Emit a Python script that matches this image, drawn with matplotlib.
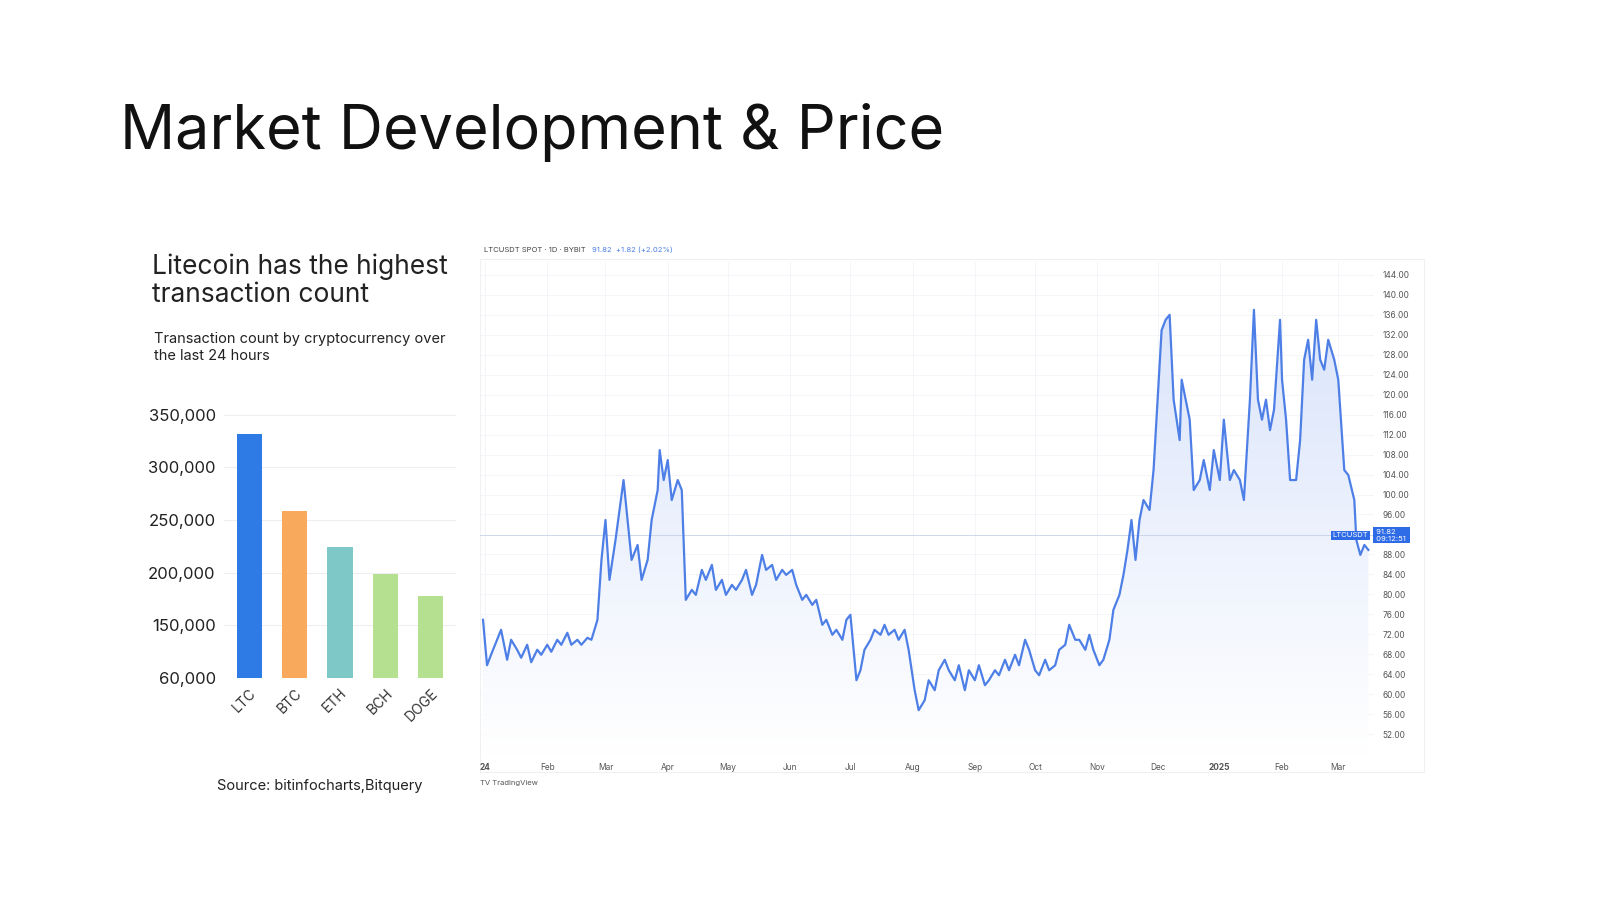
import matplotlib
matplotlib.use("Agg")
import matplotlib.pyplot as plt
import numpy as np
from matplotlib.patches import Polygon
from matplotlib.colors import LinearSegmentedColormap

plt.rcParams['font.family'] = ['Inter', 'DejaVu Sans']

# ---- bar data ----
coins = ["LTC", "BTC", "ETH", "BCH", "DOGE"]
tx_counts = [331700, 258700, 224000, 199000, 178000]
bar_colors = ["#2F7BE5", "#F9A95C", "#7FC8C8", "#B5E08F", "#B5E08F"]
bar_ticks = [100000, 150000, 200000, 250000, 300000, 350000]
bar_tick_labels = ["60,000", "150,000", "200,000", "250,000", "300,000", "350,000"]

# ---- price data (days since 2024-01-01, LTC/USDT) ----
price_days = [-1, 1, 3, 6, 8, 11, 13, 16, 18, 21, 23, 26, 28, 31, 33, 36, 38, 41, 43, 46, 48, 51, 53, 56,
              58, 60, 62, 65, 67, 69, 71, 73, 76, 78, 81, 83, 86, 87, 89, 91, 93, 96, 98, 100, 103, 105, 108,
              110, 113, 115, 118, 120, 123, 125, 128, 130, 133, 135, 138, 140, 143, 145, 148, 150, 153, 155,
              158, 160, 163, 165, 168, 170, 173, 175, 178, 180, 182, 185, 187, 189, 192, 194, 197, 199, 201,
              204, 206, 209, 211, 214, 216, 219, 221, 224, 226, 229, 231, 234, 236, 239, 241, 244, 246, 249,
              251, 254, 256, 259, 261, 264, 266, 269, 271, 274, 276, 279, 281, 284, 286, 289, 291, 294, 296,
              299, 301, 303, 306, 308, 311, 313, 316, 318, 320, 322, 324, 326, 328, 331, 333, 335, 337, 339,
              341, 343, 346, 347, 349, 351, 353, 356, 358, 361, 363, 366, 368, 371, 373, 376, 378, 381, 383,
              385, 387, 389, 391, 393, 396, 397, 399, 401, 404, 406, 408, 410, 412, 414, 416, 418, 420, 423,
              425, 428, 430, 433, 434, 436, 438, 440]
price_vals = [74.9, 65.8, 67.9, 70.9, 72.9, 66.9, 70.9, 68.9, 67.3, 69.9, 66.4, 68.9, 67.9, 69.9, 68.5, 70.9,
              69.9, 72.3, 69.9, 70.9, 69.9, 71.3, 70.9, 74.9, 86.9, 94.9, 82.9, 90.9, 96.9, 102.9, 94.9, 86.9,
              89.9, 82.9, 86.9, 94.9, 100.9, 108.9, 102.9, 106.9, 98.9, 102.9, 100.9, 78.9, 80.9, 79.9, 84.9,
              82.9, 85.9, 80.9, 82.9, 79.9, 81.9, 80.9, 82.9, 84.9, 79.9, 81.9, 87.9, 84.9, 85.9, 82.9, 84.9,
              83.9, 84.9, 81.9, 78.9, 79.9, 77.9, 78.9, 73.9, 74.9, 71.9, 72.9, 70.9, 74.9, 75.9, 62.8, 64.8,
              68.9, 70.9, 72.9, 71.9, 73.9, 71.9, 72.9, 70.9, 72.9, 68.9, 60.8, 56.8, 58.8, 62.8, 60.8, 64.8,
              66.9, 64.8, 62.8, 65.8, 60.8, 64.8, 62.8, 65.8, 61.8, 62.8, 64.8, 63.8, 66.9, 64.8, 67.9, 65.8,
              70.9, 68.9, 64.8, 63.8, 66.9, 64.8, 65.8, 68.9, 69.9, 73.9, 70.9, 70.9, 68.9, 71.9, 68.9, 65.8,
              66.9, 70.9, 76.9, 79.9, 83.9, 88.9, 94.9, 86.9, 94.9, 98.9, 96.9, 104.9, 118.9, 132.9, 135.0,
              136.0, 119.0, 110.9, 123.0, 119.0, 115.0, 100.9, 102.9, 106.9, 100.9, 108.9, 102.9, 115.0,
              102.9, 104.9, 102.9, 98.9, 119.0, 137.0, 119.0, 115.0, 119.0, 112.9, 117.0, 135.0, 123.0,
              115.0, 102.9, 102.9, 110.9, 127.0, 131.0, 123.0, 135.0, 127.0, 125.0, 131.0, 127.0, 123.0,
              104.9, 103.9, 98.9, 90.9, 87.9, 89.9, 88.9]
price_ticks = [t for t in range(52, 145, 4) if t != 92]
month_days = [0, 31, 60, 91, 121, 152, 182, 213, 244, 274, 305, 335, 366, 397, 425]
month_labels = ["24", "Feb", "Mar", "Apr", "May", "Jun", "Jul", "Aug", "Sep", "Oct", "Nov", "Dec", "2025", "Feb", "Mar"]

fig = plt.figure(figsize=(16, 9), dpi=100)
fig.patch.set_facecolor("white")

fig.text(0.075, 0.853, "Market Development & Price", fontsize=44, color="#111111", va="center")

# ---- bar chart ----
fig.text(0.095, 0.688, "Litecoin has the highest\ntransaction count", fontsize=19, color="#222222",
         va="center", linespacing=1.1)
fig.text(0.096, 0.614, "Transaction count by cryptocurrency over\nthe last 24 hours", fontsize=10.5,
         color="#222222", va="center", linespacing=1.2)
fig.text(0.2, 0.127, "Source: bitinfocharts,Bitquery", fontsize=10.5, color="#222222", ha="center", va="center")

axb = fig.add_axes([0.14, 0.247, 0.145, 0.292])
x = np.arange(len(coins))
axb.bar(x, np.array(tx_counts) - 100000, bottom=100000, width=0.55, color=bar_colors)
axb.set_ylim(100000, 350000)
axb.set_xlim(-0.55, len(coins) - 0.45)
axb.set_yticks(bar_ticks)
axb.set_yticklabels(bar_tick_labels, fontsize=12, color="#222222")
axb.set_xticks(x)
axb.set_xticklabels(coins, rotation=45, fontsize=10, color="#333333", ha="right", rotation_mode="anchor")
axb.tick_params(length=0, pad=6)
for s in axb.spines.values():
    s.set_visible(False)
axb.grid(axis="y", color="#eeeeee", lw=0.8)
axb.set_axisbelow(True)

# ---- price chart ----
fig.add_artist(plt.Rectangle((0.3, 0.142), 0.59, 0.57, transform=fig.transFigure,
                             fc="white", ec="#f0f0f0", lw=0.8, zorder=-5))
axp = fig.add_axes([0.3, 0.161, 0.559, 0.548])
axp.patch.set_alpha(0)
axp.set_ylim(47.8, 146.6)
axp.set_xlim(-2.5, 443)
n = min(len(price_days), len(price_vals))
d = np.array(price_days[:n])
v = np.array(price_vals[:n])
axp.plot(d, v, color="#4D7FE6", lw=1.6, zorder=3)
grad = np.linspace(0, 1, 256).reshape(-1, 1)
cmap = LinearSegmentedColormap.from_list("g", ["#ffffff", "#d6e1fa"])
im = axp.imshow(grad, aspect="auto", cmap=cmap, origin="lower",
                extent=[-2.5, 443, 47.8, 146.6], zorder=1)
poly = Polygon(np.column_stack([np.r_[d, d[-1], d[0]], np.r_[v, 47.8, 47.8]]),
               closed=True, transform=axp.transData, fc="none", ec="none")
axp.add_patch(poly)
im.set_clip_path(poly)
axp.axhline(91.82, color="#c8d2e6", lw=0.6, zorder=2)
axp.yaxis.tick_right()
axp.set_yticks(price_ticks)
axp.set_yticklabels([f"{t:.2f}" for t in price_ticks], fontsize=6, color="#555555")
axp.set_xticks(month_days)
axp.set_xticklabels(month_labels, fontsize=6, color="#555555")
for lab in axp.get_xticklabels():
    if lab.get_text() in ("24", "2025"):
        lab.set_fontweight("bold")
axp.tick_params(length=0, pad=6)
axp.grid(color="#f3f4f7", lw=0.6)
axp.set_axisbelow(True)
for s in axp.spines.values():
    s.set_visible(False)
axp.text(0.005, 1.02, "LTCUSDT SPOT · 1D · BYBIT", transform=axp.transAxes, fontsize=5.5, color="#444444")
axp.text(0.125, 1.02, "91.82  +1.82 (+2.02%)", transform=axp.transAxes, fontsize=5.5, color="#4D7FE6")
axp.text(1.0, 91.82, " 91.82 \n 09:12:51 ", transform=axp.get_yaxis_transform(), fontsize=5.5,
         color="white", va="center", ha="left",
         bbox=dict(boxstyle="square,pad=0.2", fc="#2E6BE6", ec="none"), zorder=5)
axp.text(440, 91.82, "LTCUSDT", fontsize=5.5, color="white", va="center", ha="right",
         bbox=dict(boxstyle="square,pad=0.2", fc="#2E6BE6", ec="none"), zorder=4)
fig.text(0.3, 0.128, "TV TradingView", fontsize=5.5, color="#555555")

fig.savefig("out.png", dpi=100, facecolor="white")
